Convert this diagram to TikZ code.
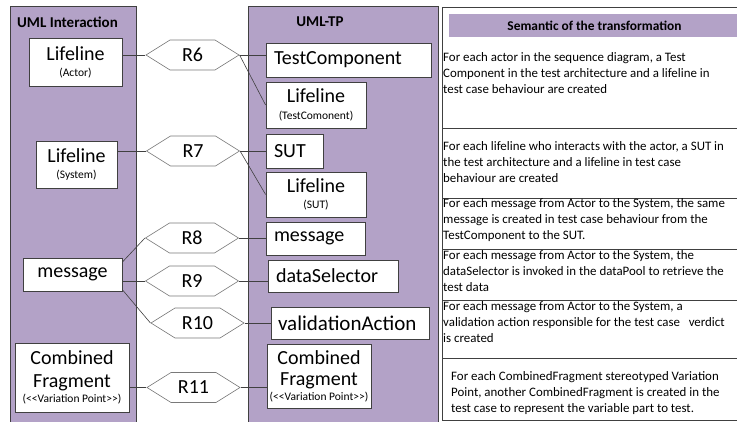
\documentclass[tikz,border=0pt]{standalone}
\usepackage{fontspec}
\setmainfont{Carlito}
\usetikzlibrary{shapes.symbols}
\definecolor{lila}{RGB}{179,162,199}
\definecolor{rim}{RGB}{64,64,64}
\def\bigf{\fontsize{20}{22}\selectfont}
\def\smallf{\fontsize{11.5}{13}\selectfont}
\def\tabf{\fontsize{12.9}{16}\selectfont}
\def\titf{\fontsize{15}{16}\selectfont\bfseries}
\def\vp{{\smallf(<\kern0pt<Variation Point>\kern0pt>)}}

\begin{document}
\begin{tikzpicture}[x=1pt,y=-1pt,
    box/.style={draw=rim,fill=white,line width=0.8pt,font=\bigf,align=center,inner sep=0pt},
    lbox/.style={box,align=left,inner xsep=8pt},
    rule/.style={draw=rim!70,fill=white,signal,signal to=east and west,signal pointer angle=64,
        minimum height=30pt,minimum width=93pt,font=\bigf,inner sep=0pt,line width=0.6pt},
    link/.style={draw=rim,line width=0.6pt},
    note/.style={anchor=north west,align=left,inner sep=0pt,font=\tabf}]
    \clip (0,0) rectangle (737,421);
    \draw[rim,fill=lila,line width=0.8pt] (10,6) rectangle (136,430);
    \draw[rim,fill=lila,line width=0.8pt] (248,6) rectangle (438,430);
    \draw[rim,line width=0.8pt] (442,7) rectangle (745,420);
    \fill[lila] (449,14) rectangle (745,37);
    \foreach \y in {128,198,249,300,358}
        \draw[rim,line width=0.8pt] (442,\y) -- (745,\y);

    \node[font=\titf] (uml) at (67.5,22) {UML Interaction};
    \node[font=\titf] (tp) at (320,22) {UML-TP};
    \node[font=\fontsize{13.4}{16}\selectfont\bfseries] (sem) at (594.5,25.5) {Semantic of the transformation};

    \node[box,minimum width=93pt,minimum height=48pt] (act) at (75.5,62) {Lifeline\\[-6pt]{\smallf(Actor)}};
    \node[box,minimum width=81pt,minimum height=47pt] (sys) at (76.5,164.5) {Lifeline\\[-6pt]{\smallf(System)}};
    \node[box,minimum width=99pt,minimum height=33pt] (msg) at (72.5,274.5) {message};
    \node[box,minimum width=114pt,minimum height=69pt] (cfl) at (72,377.5) {Combined\\[1pt]Fragment\\[-7pt]\vp};

    \foreach \n/\x/\y in {6/192.5/55,7/193/151,8/192/238,9/192/281,10/197.5/323,11/193.5/387.5}
        \node[rule] (r\n) at (\x,\y) {R\n};

    \node[lbox,text width=149pt,minimum height=34pt] (tc) at (348.5,60) {TestComponent};
    \node[box,minimum width=100pt,minimum height=46pt] (ltc) at (316,105) {Lifeline\\[-5pt]{\smallf(TestComonent)}};
    \node[lbox,text width=41pt,minimum height=34pt] (sut) at (294.5,151) {SUT};
    \node[box,minimum width=100pt,minimum height=45pt] (lsut) at (316,194.5) {Lifeline\\[-6pt]{\smallf(SUT)}};
    \node[lbox,text width=83pt,minimum height=33pt] (msgr) at (315.5,238.5) {message};
    \node[lbox,text width=114pt,minimum height=32pt] (ds) at (333,276) {dataSelector};
    \node[lbox,inner xsep=7pt,text width=144pt,minimum height=32pt,font=\fontsize{21}{22}\selectfont] (va) at (350,323) {validationAction};
    \node[box,minimum width=104pt,minimum height=64pt] (cfr) at (319,376) {Combined\\[-1pt]Fragment\\[-7pt]\vp};

    \draw[link] (r6.west) -- (r6.west -| act.east);
    \draw[link] (r7.west) -- (r7.west -| sys.east);
    \draw[link] (msg.14) -- (r8.west);
    \draw[link] (r9.west) -- (r9.west -| msg.east);
    \draw[link] (msg.-17) -- (r10.west);
    \draw[link] (r11.west) -- (r11.west -| cfl.east);
    \draw[link] (r6.east) -- (r6.east -| tc.west);
    \draw[link] (r6.east) -- (ltc.west);
    \draw[link] (r7.east) -- (r7.east -| sut.west);
    \draw[link] (r7.east) -- (lsut.west);
    \draw[link] (r8.east) -- (r8.east -| msgr.west);
    \draw[link] (r9.east) -- (r9.east -| ds.west);
    \draw[link] (r10.east) -- (r10.east -| va.west);
    \draw[link] (r11.east) -- (r11.east -| cfr.west);

    \node[note] (n1) at (443,52.5) {For each actor in the sequence diagram, a Test\\Component in the test architecture and a lifeline in\\test case behaviour are created};
    \node[note] (n2) at (443,141.5) {For each lifeline who interacts with the actor, a SUT in\\the test architecture and a lifeline in test case\\behaviour are created};
    \node[note] (n3) at (443,198.5) {For each message from Actor to the System, the same\\message is created in test case behaviour from the\\TestComponent to the SUT.};
    \node[note] (n4) at (443,250.5) {For each message from Actor to the System, the\\dataSelector is invoked in the dataPool to retrieve the\\test data};
    \node[note] (n5) at (443,301.5) {For each message from Actor to the System, a\\validation action responsible for the test case\ \ \ verdict\\is created};
    \node[note] (n6) at (451,371.5) {For each CombinedFragment stereotyped Variation\\Point, another CombinedFragment is created in the\\test case to represent the variable part to test.};
\end{tikzpicture}
\end{document}
